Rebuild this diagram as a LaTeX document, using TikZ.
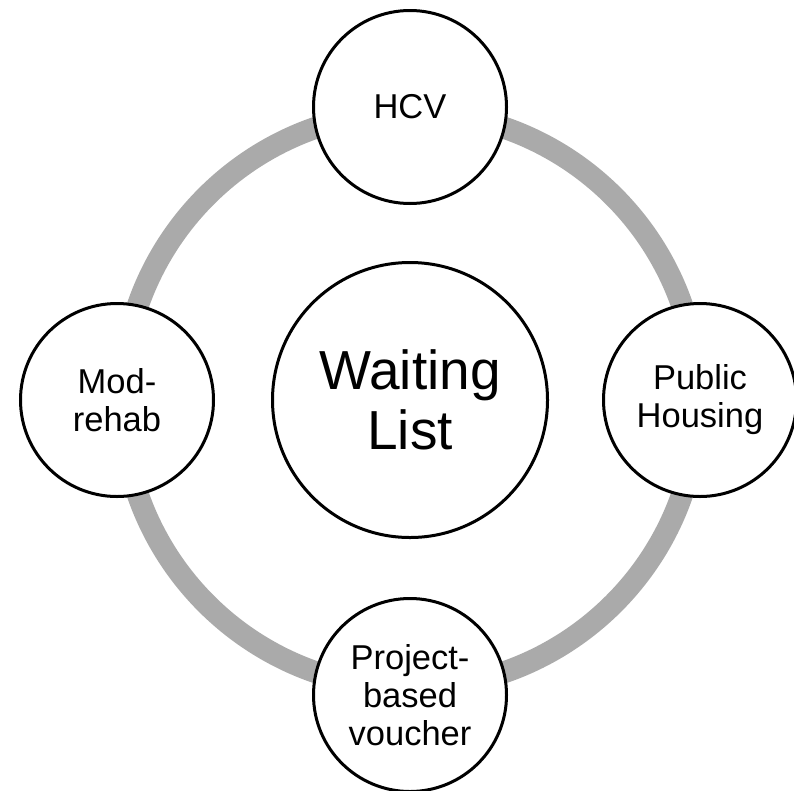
\documentclass[tikz,border=0pt]{standalone}
\usepackage{fontspec}
\setmainfont{Liberation Sans}
\definecolor{ringgray}{RGB}{170,170,170}
\begin{document}
\begin{tikzpicture}[x=1pt,y=-1pt,
  sat/.style={circle,draw=black,line width=3pt,fill=white,minimum size=193pt,inner sep=0pt,align=center,font=\fontsize{34.5}{38}\selectfont},
  hub/.style={circle,draw=black,line width=3pt,fill=white,minimum size=275pt,inner sep=0pt,align=center,font=\fontsize{55}{60}\selectfont},
  ring/.style={draw=ringgray,line width=22pt}]
\useasboundingbox (0,0) rectangle (794,790);
\coordinate (c) at (410,400);
\draw[ring] (c) circle (288pt);
\node[hub] (wl) at (c) {Waiting\\List};
\node[sat] (hcv) at (410,107) {HCV};
\node[sat] (ph) at (700,400) {Public\\Housing};
\node[sat] (pbv) at (410,695) {Project-\\based\\voucher};
\node[sat] (mr) at (117,400) {Mod-\\rehab};
\end{tikzpicture}
\end{document}
